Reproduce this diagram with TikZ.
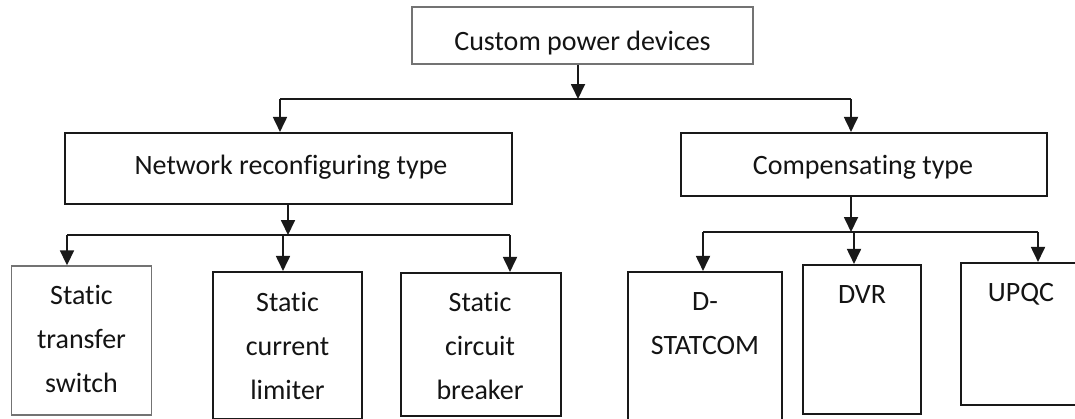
\documentclass[tikz,border=0pt]{standalone}
\usepackage{fontspec}
\setmainfont{Carlito}[Ligatures=NoCommon]
\usetikzlibrary{arrows.meta}

% one centred column whose baseline is that of its first row
\newcommand\cellstack[1]{\begin{tabular}[t]{@{}c@{}}#1\end{tabular}}

\begin{document}
\begin{tikzpicture}[
  x=1pt, y=-1pt,
  inklr/.style={draw=black!90, line width=2.1pt},
  softbox/.style={draw=black!55, line width=1.4pt},
  frame/.style={rectangle, inner sep=0pt, fill=white},
  lbl/.style={anchor=base, inner sep=0pt, text=black!92,
    font=\fontsize{28}{44}\selectfont},
  wire/.style={draw=black!90, line width=1.8pt},
  arr/.style={wire, -{Triangle[width=14pt,length=15pt]}}
]
\useasboundingbox (0,0) rectangle (1075,418);
\fill[white] (0,0) rectangle (1075,418);
\clip (0,0) rectangle (1075,418);

% ---- boxes ----
\node[frame, softbox, minimum width=341pt, minimum height=57pt] (top)  at (582.5,35.5) {};
\node[frame, inklr,   minimum width=447pt, minimum height=71pt] (net)  at (288.5,168.5) {};
\node[frame, inklr,   minimum width=366pt, minimum height=63pt] (comp) at (864,164.5) {};

\node[frame, softbox, minimum width=140pt, minimum height=149pt] (sts)   at (81.5,340.5) {};
\node[frame, inklr,   minimum width=149pt, minimum height=147pt] (lim)   at (287.5,345.5) {};
\node[frame, inklr,   minimum width=160pt, minimum height=143pt] (brk)   at (481,344.5) {};
\node[frame, inklr,   minimum width=154pt, minimum height=158pt] (dstat) at (705,351) {};
\node[frame, inklr,   minimum width=118pt, minimum height=149pt] (dvr)   at (862,339.5) {};
\node[frame, inklr,   minimum width=129pt, minimum height=142pt] (upqc)  at (1025.5,334) {};

% ---- labels ----
\node[lbl] (ttop)  at ([yshift=-14.5pt]top.center)                {Custom power devices};
\node[lbl] (tnet)  at ([xshift=2.5pt,yshift=-5.5pt]net.center)    {Network reconfiguring type};
\node[lbl] (tcomp) at ([xshift=-1pt,yshift=-9.5pt]comp.center)    {Compensating type};

\node[lbl] (tsts)   at ([yshift=-39pt]sts.north)               {\cellstack{Static\\transfer\\switch}};
\node[lbl] (tlim)   at ([yshift=-41pt]lim.north)               {\cellstack{Static\\current\\limiter}};
\node[lbl] (tbrk)   at ([xshift=-1pt,yshift=-40pt]brk.north)   {\cellstack{Static\\circuit\\breaker}};
\node[lbl] (tdstat) at ([yshift=-40pt]dstat.north)             {\cellstack{D-\\STATCOM}};
\node[lbl] (tdvr)   at ([yshift=-40pt]dvr.north)               {DVR};
\node[lbl] (tupqc)  at ([xshift=-4.5pt,yshift=-40pt]upqc.north) {UPQC};

% ---- first level ----
\coordinate (b0) at (578,99);
\coordinate (bL) at (280,99);
\coordinate (bR) at (851,99);
\draw[wire] (bL) -- (bR);
\draw[arr] (top.south -| b0) -- (b0);
\draw[arr] (bL) -- (bL |- net.north);
\draw[arr] (bR) -- (bR |- comp.north);

% ---- network reconfiguring branch ----
\coordinate (n0) at (288,235);
\coordinate (n1) at (67,235);
\coordinate (n2) at (283,235);
\coordinate (n3) at (510,235);
\draw[wire] (n1) -- (n3);
\draw[arr] (net.south -| n0) -- (n0);
\draw[arr] (n1) -- (n1 |- sts.north);
\draw[arr] (n2) -- (n2 |- lim.north);
\draw[arr] (n3) -- (n3 |- brk.north);

% ---- compensating branch ----
\coordinate (c0) at (851,232);
\coordinate (c1) at (703,232);
\coordinate (c2) at (854,232);
\coordinate (c3) at (1038,232);
\draw[wire] (c1) -- (c3);
\draw[arr] (comp.south -| c0) -- (c0);
\draw[arr] (c1) -- (c1 |- dstat.north);
\draw[arr] (c2) -- (c2 |- dvr.north);
\draw[arr] (c3) -- (c3 |- upqc.north);
\end{tikzpicture}
\end{document}
